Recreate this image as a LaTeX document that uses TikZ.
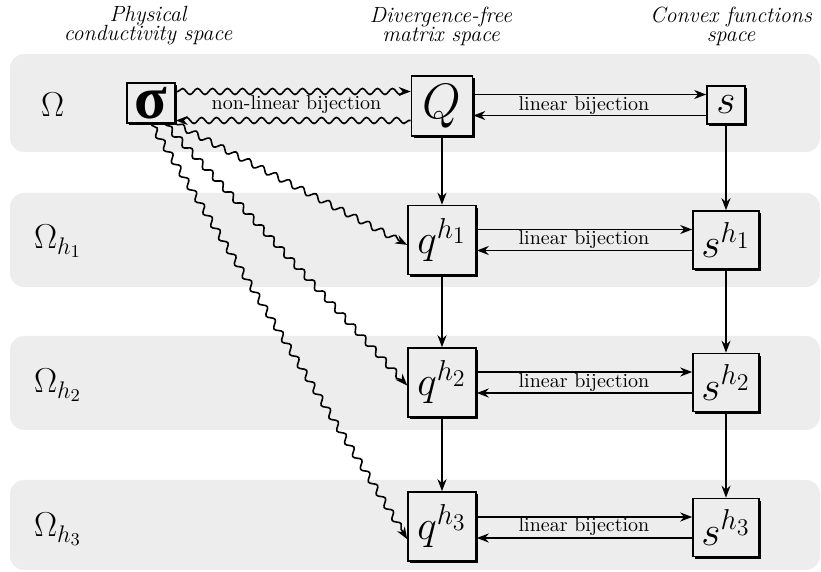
\documentclass[tikz,border=0pt]{standalone}
\usepackage{amssymb}
\usepackage{amsmath}
\usepackage{fontspec}
\usepackage{xcolor}
\usepackage{tikz}
\usetikzlibrary{arrows.meta,calc,decorations.pathmorphing,positioning,shadows}
\newfontfamily\sigfont{Liberation Serif}
\definecolor{bandgray}{HTML}{EDEDED}
\tikzset{%
	band/.style    = {fill=bandgray, rounded corners=7pt},
	heading/.style = {font=\fontsize{11}{11}\selectfont\itshape, align=center},
	omlabel/.style = {anchor=base west, font=\fontsize{18}{18}\selectfont},
	boxnode/.style = {draw, thick, fill=bandgray, inner sep=1pt, drop shadow={shadow xshift=1.1pt, shadow yshift=-1.1pt, fill=black, opacity=1}},
	qbox/.style    = {boxnode, minimum width=34pt, minimum height=34.5pt, font=\huge},
	sbox/.style    = {boxnode, minimum width=33pt, minimum height=29pt, font=\huge},
	arrow/.style   = {thick,-{Stealth[length=6pt,width=4.5pt]}},
	wavy/.style    = {thick,-{Stealth[length=6pt,width=4.5pt]}, decorate, decoration={snake, amplitude=1.5pt, segment length=7.5pt, pre length=1pt, post length=3pt}},
}

\begin{document}
\begin{tikzpicture}[x=0.5pt,y=-0.5pt]
		\useasboundingbox (0,0) rectangle (821,572);
		% grid levels
		\foreach \t/\b in {54/152,193/287,336/430,480/570} \fill[band] (10,\t) rectangle (820,\b);
		
		\node[heading] (hphys) at (148,26) {Physical\\[-1.5pt]conductivity space};
		\node[heading] (hdiv) at (441,26) {Divergence-free\\[-1.5pt]matrix space};
		\node[heading] (hconv) at (731,26) {Convex functions\\[-1.5pt]space};
		
		\node[omlabel] (om) at (34,117) {$\Omega$};
		\node[omlabel] (omone) at (27,249) {$\Omega_{h_1}$};
		\node[omlabel] (omtwo) at (27,393) {$\Omega_{h_2}$};
		\node[omlabel] (omthree) at (27,537) {$\Omega_{h_3}$};
		
		% the spaces
		\node[boxnode, minimum width=24pt, minimum height=20pt, font=\fontsize{30}{30}\selectfont\sigfont\bfseries] (sig) at (151,103) {σ};
		\node[boxnode, minimum width=30.5pt, minimum height=30pt, font=\Huge] (Q) at (442,106) {$Q$};
		\node[boxnode, minimum width=19pt, minimum height=19pt, font=\huge] (s) at (726,105) {$s$};
		\node[qbox] (qone) at (442,240) {$q^{h_1}$};
		\node[sbox] (sone) at (726,240) {$s^{h_1}$};
		\node[qbox] (qtwo) at (442,382.5) {$q^{h_2}$};
		\node[sbox] (stwo) at (726,382.5) {$s^{h_2}$};
		\node[qbox] (qthree) at (442,526.5) {$q^{h_3}$};
		\node[sbox] (sthree) at (726,527.5) {$s^{h_3}$};
		
		% refinement
		\foreach \a/\b in {Q/qone,qone/qtwo,qtwo/qthree,s/sone,sone/stwo,stwo/sthree} \draw[arrow] (\a) -- (\b);
		
		% linear bijections
		\foreach \q/\s in {Q/s,qone/sone,qtwo/stwo,qthree/sthree} {
			\coordinate (in\s) at ([yshift=5.25pt]\s.west);
			\coordinate (out\s) at ([yshift=-5.25pt]\s.west);
			\draw[arrow] (\q.east |- in\s) -- (in\s);
			\draw[arrow] (out\s) -- (\q.east |- out\s);
			\path (\q.center) -- (\s.center) node[midway] {linear bijection};
		}
		
		% non-linear bijection
		\coordinate (topQ) at ([yshift=7.25pt]Q.west);
		\coordinate (botQ) at ([yshift=-7.25pt]Q.west);
		\draw[wavy] (sig.east |- topQ) -- (topQ);
		\draw[wavy] (botQ) -- (sig.east |- botQ);
		\path (sig.center) -- (Q.center) node[midway] {non-linear bijection};
		
		\draw[wavy] (sig.south east) -- (qone.188);
		\draw[wavy] ([xshift=7pt]sig.south) -- (qtwo.185);
		\draw[wavy] (sig.south) -- (qthree.200);
\end{tikzpicture}
\end{document}
